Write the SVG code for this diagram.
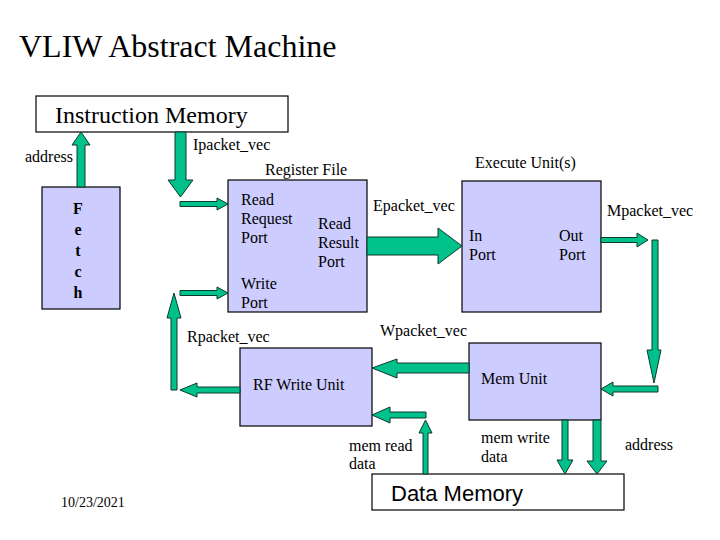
<svg xmlns="http://www.w3.org/2000/svg" width="720" height="540" viewBox="0 0 720 540">
<style>
.bg{fill:#ffffff}
.box{fill:#ccccff;stroke:#000;stroke-width:1.2}
.wbox{fill:#ffffff;stroke:#000;stroke-width:1.2}
.arr{fill:#00c08c;stroke:#0a3a2a;stroke-width:1}
</style>
<rect class="bg" width="720" height="540"/>
<g font-family="Liberation Serif" font-size="16" fill="#000">
<text x="19" y="57" font-size="32">VLIW Abstract Machine</text>
<text x="61" y="507" font-size="14">10/23/2021</text>

<g id="instruction-memory">
<rect class="wbox" x="36" y="96" width="252" height="36"/>
<text x="55" y="123" font-size="24">Instruction Memory</text>
</g>
<g id="fetch">
<rect class="box" x="42" y="187" width="78" height="122"/>
<g font-weight="bold" font-size="16" text-anchor="middle">
<text x="78" y="214">F</text><text x="78" y="235">e</text><text x="78" y="256">t</text><text x="78" y="277">c</text><text x="78" y="298">h</text>
</g>
</g>
<g id="register-file">
<rect class="box" x="228" y="180" width="139" height="132"/>
<text x="265" y="175">Register File</text>
<text><tspan x="241" y="205">Read</tspan><tspan x="241" y="224">Request</tspan><tspan x="241" y="243">Port</tspan></text>
<text><tspan x="318" y="229">Read</tspan><tspan x="318" y="248">Result</tspan><tspan x="318" y="267">Port</tspan></text>
<text><tspan x="241" y="289">Write</tspan><tspan x="241" y="308">Port</tspan></text>
</g>
<g id="execute-unit">
<rect class="box" x="462" y="181" width="139" height="131"/>
<text x="475" y="168">Execute Unit(s)</text>
<text><tspan x="469" y="241">In</tspan><tspan x="469" y="260">Port</tspan></text>
<text><tspan x="559" y="241">Out</tspan><tspan x="559" y="260">Port</tspan></text>
</g>
<g id="mem-unit">
<rect class="box" x="469" y="343" width="132" height="77"/>
<text x="481" y="384">Mem Unit</text>
</g>
<g id="rf-write-unit">
<rect class="box" x="240" y="348" width="132" height="78"/>
<text x="253" y="390">RF Write Unit</text>
</g>
<g id="data-memory">
<rect class="wbox" x="372" y="474" width="252" height="36"/>
<text x="391" y="501" font-family="Liberation Sans" font-size="22">Data Memory</text>
</g>

<g id="connectors">
<polygon class="arr" points="77,187 77,145 72,145 81,132 90,145 85,145 85,187"/>
<polygon class="arr" points="175,132 186,132 186,180 193,180 180.5,197 168,180 175,180"/>
<polygon class="arr" points="180,201.5 217,201.5 217,198 228,204 217,210 217,206.5 180,206.5"/>
<polygon class="arr" points="180,290.5 217,290.5 217,287 228,293 217,299 217,295.5 180,295.5"/>
<polygon class="arr" points="367,237 438,237 438,228 462,246 438,264 438,255 367,255"/>
<polygon class="arr" points="601,237.5 637,237.5 637,233 648,240 637,247 637,242.5 601,242.5"/>
<polygon class="arr" points="652,240 658,240 658,350 661,350 654,383 647,350 652,350"/>
<polygon class="arr" points="658,386 613,386 613,382 601,389 613,396 613,392 658,392"/>
<polygon class="arr" points="469,363 397,363 397,359 372,368 397,378 397,373 469,373"/>
<polygon class="arr" points="240,387 197,387 197,383 180,390 197,397 197,393 240,393"/>
<polygon class="arr" points="171,390 171,318 167,318 174,293 181,318 177,318 177,390"/>
<polygon class="arr" points="423,474 423,433 419,433 425.5,420 432,433 428,433 428,474"/>
<polygon class="arr" points="426,412 390,412 390,407 372,415 390,423 390,418 426,418"/>
<polygon class="arr" points="562,420 568,420 568,460 573,460 565,474 557,460 562,460"/>
<polygon class="arr" points="593,420 601,420 601,461 607,461 597,474 587,461 593,461"/>
</g>

<g id="labels" font-size="16">
<text x="25" y="162">address</text>
<text x="193" y="150">Ipacket_vec</text>
<text x="373" y="211">Epacket_vec</text>
<text x="607" y="216">Mpacket_vec</text>
<text x="380" y="336">Wpacket_vec</text>
<text x="187" y="342">Rpacket_vec</text>
<text><tspan x="349" y="451">mem read</tspan><tspan x="349" y="469">data</tspan></text>
<text><tspan x="481" y="443">mem write</tspan><tspan x="481" y="462">data</tspan></text>
<text x="625" y="450">address</text>
</g>
</g>
</svg>
